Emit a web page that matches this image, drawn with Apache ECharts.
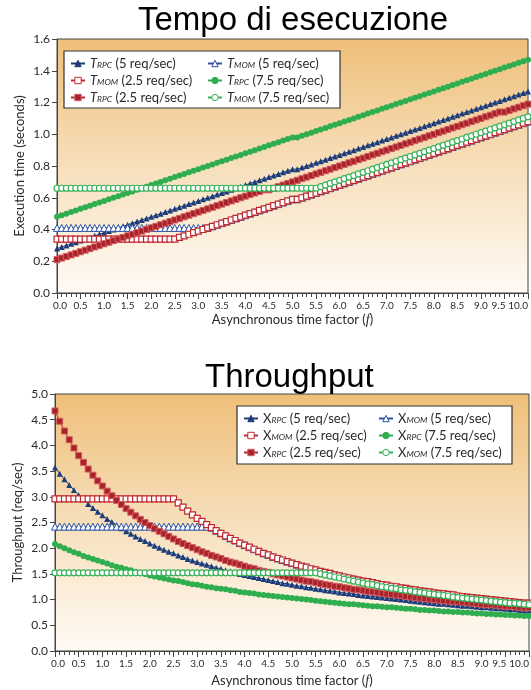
<!DOCTYPE html>
<html>
<head>
<meta charset="utf-8">
<script src="https://cdn.jsdelivr.net/npm/echarts@6/dist/echarts.min.js"></script>
<style>
html, body { margin: 0; padding: 0; background: #fff; }
#chart { width: 531px; height: 690px; }
</style>
</head>
<body>
<div id="chart"></div>
<script>
// fattore di tempo asincrono f (asse x, passo 0.1)
const fs = [
  0,0.1,0.2,0.3,0.4,0.5,0.6,0.7,0.8,0.9,
  1,1.1,1.2,1.3,1.4,1.5,1.6,1.7,1.8,1.9,
  2,2.1,2.2,2.3,2.4,2.5,2.6,2.7,2.8,2.9,
  3,3.1,3.2,3.3,3.4,3.5,3.6,3.7,3.8,3.9,
  4,4.1,4.2,4.3,4.4,4.5,4.6,4.7,4.8,4.9,
  5,5.1,5.2,5.3,5.4,5.5,5.6,5.7,5.8,5.9,
  6,6.1,6.2,6.3,6.4,6.5,6.6,6.7,6.8,6.9,
  7,7.1,7.2,7.3,7.4,7.5,7.6,7.7,7.8,7.9,
  8,8.1,8.2,8.3,8.4,8.5,8.6,8.7,8.8,8.9,
  9,9.1,9.2,9.3,9.4,9.5,9.6,9.7,9.8,9.9,
  10
];

// tempo di esecuzione (secondi)
const tRpc5 = [
  0.28,0.29,0.30,0.31,0.32,0.33,0.34,0.35,0.36,0.37,
  0.38,0.39,0.40,0.41,0.42,0.43,0.44,0.45,0.46,0.47,
  0.48,0.49,0.50,0.51,0.52,0.53,0.54,0.55,0.56,0.57,
  0.58,0.59,0.60,0.61,0.62,0.63,0.64,0.65,0.66,0.67,
  0.68,0.69,0.70,0.71,0.72,0.73,0.74,0.75,0.76,0.77,
  0.78,0.78,0.79,0.80,0.81,0.82,0.83,0.84,0.85,0.86,
  0.87,0.88,0.89,0.90,0.91,0.92,0.93,0.94,0.95,0.96,
  0.97,0.98,0.99,1.00,1.01,1.02,1.03,1.04,1.05,1.06,
  1.07,1.08,1.09,1.10,1.11,1.12,1.13,1.14,1.15,1.16,
  1.17,1.18,1.19,1.20,1.21,1.22,1.23,1.24,1.25,1.26,
  1.27
];
const tMom5 = [
  0.41,0.41,0.41,0.41,0.41,0.41,0.41,0.41,0.41,0.41,
  0.41,0.41,0.41,0.41,0.41,0.41,0.41,0.41,0.41,0.41,
  0.41,0.41,0.41,0.41,0.41,0.41,0.41,0.41,0.41,0.41,
  0.41,0.41,0.41,0.42,0.43,0.44,0.45,0.46,0.47,0.48,
  0.49,0.50,0.51,0.52,0.53,0.54,0.55,0.56,0.57,0.58,
  0.59,0.59,0.60,0.61,0.62,0.63,0.64,0.65,0.66,0.67,
  0.68,0.69,0.70,0.71,0.72,0.73,0.74,0.75,0.76,0.77,
  0.78,0.79,0.80,0.81,0.82,0.83,0.84,0.85,0.86,0.87,
  0.88,0.89,0.90,0.91,0.92,0.93,0.94,0.95,0.96,0.97,
  0.98,0.99,1.00,1.01,1.02,1.03,1.04,1.05,1.06,1.07,
  1.08
];
const tMom25 = [
  0.34,0.34,0.34,0.34,0.34,0.34,0.34,0.34,0.34,0.34,
  0.34,0.34,0.34,0.34,0.34,0.34,0.34,0.34,0.34,0.34,
  0.34,0.34,0.34,0.34,0.34,0.34,0.35,0.36,0.37,0.38,
  0.39,0.40,0.41,0.42,0.43,0.44,0.45,0.46,0.47,0.48,
  0.49,0.50,0.51,0.52,0.53,0.54,0.55,0.56,0.57,0.58,
  0.59,0.59,0.60,0.61,0.62,0.63,0.64,0.65,0.66,0.67,
  0.68,0.69,0.70,0.71,0.72,0.73,0.74,0.75,0.76,0.77,
  0.78,0.79,0.80,0.81,0.82,0.83,0.84,0.85,0.86,0.87,
  0.88,0.89,0.90,0.91,0.92,0.93,0.94,0.95,0.96,0.97,
  0.98,0.99,1.00,1.01,1.02,1.03,1.04,1.05,1.06,1.07,
  1.08
];
const tRpc75 = [
  0.48,0.49,0.50,0.51,0.52,0.53,0.54,0.55,0.56,0.57,
  0.58,0.59,0.60,0.61,0.62,0.63,0.64,0.65,0.66,0.67,
  0.68,0.69,0.70,0.71,0.72,0.73,0.74,0.75,0.76,0.77,
  0.78,0.79,0.80,0.81,0.82,0.83,0.84,0.85,0.86,0.87,
  0.88,0.89,0.90,0.91,0.92,0.93,0.94,0.95,0.96,0.97,
  0.98,0.98,0.99,1.00,1.01,1.02,1.03,1.04,1.05,1.06,
  1.07,1.08,1.09,1.10,1.11,1.12,1.13,1.14,1.15,1.16,
  1.17,1.18,1.19,1.20,1.21,1.22,1.23,1.24,1.25,1.26,
  1.27,1.28,1.29,1.30,1.31,1.32,1.33,1.34,1.35,1.36,
  1.37,1.38,1.39,1.40,1.41,1.42,1.43,1.44,1.45,1.46,
  1.47
];
const tRpc25 = [
  0.21,0.22,0.23,0.24,0.25,0.26,0.27,0.28,0.29,0.30,
  0.31,0.32,0.33,0.34,0.35,0.36,0.37,0.38,0.39,0.40,
  0.41,0.42,0.43,0.44,0.45,0.46,0.47,0.48,0.49,0.50,
  0.51,0.52,0.53,0.54,0.55,0.56,0.57,0.58,0.59,0.60,
  0.61,0.62,0.63,0.64,0.65,0.65,0.66,0.67,0.68,0.69,
  0.70,0.71,0.72,0.73,0.74,0.75,0.76,0.77,0.78,0.79,
  0.80,0.81,0.82,0.83,0.84,0.85,0.86,0.87,0.88,0.89,
  0.90,0.91,0.92,0.93,0.94,0.95,0.96,0.97,0.98,0.99,
  1.00,1.01,1.02,1.03,1.04,1.05,1.06,1.07,1.08,1.09,
  1.10,1.11,1.12,1.13,1.14,1.14,1.15,1.16,1.17,1.18,
  1.19
];
const tMom75 = [
  0.66,0.66,0.66,0.66,0.66,0.66,0.66,0.66,0.66,0.66,
  0.66,0.66,0.66,0.66,0.66,0.66,0.66,0.66,0.66,0.66,
  0.66,0.66,0.66,0.66,0.66,0.66,0.66,0.66,0.66,0.66,
  0.66,0.66,0.66,0.66,0.66,0.66,0.66,0.66,0.66,0.66,
  0.66,0.66,0.66,0.66,0.66,0.66,0.66,0.66,0.66,0.66,
  0.66,0.66,0.66,0.66,0.66,0.66,0.67,0.68,0.69,0.70,
  0.71,0.72,0.73,0.74,0.75,0.76,0.77,0.78,0.79,0.80,
  0.81,0.82,0.83,0.84,0.85,0.86,0.87,0.88,0.89,0.90,
  0.91,0.92,0.93,0.94,0.95,0.96,0.97,0.98,0.99,1.00,
  1.01,1.02,1.03,1.04,1.05,1.06,1.07,1.08,1.09,1.10,
  1.11
];

// throughput (req/sec)
const xRpc5 = [
  3.57,3.45,3.34,3.23,3.13,3.03,2.95,2.86,2.78,2.71,
  2.64,2.57,2.51,2.45,2.39,2.33,2.28,2.23,2.18,2.14,
  2.09,2.05,2.01,1.97,1.93,1.90,1.86,1.83,1.79,1.76,
  1.73,1.70,1.68,1.65,1.62,1.60,1.57,1.55,1.52,1.50,
  1.48,1.46,1.44,1.42,1.40,1.38,1.36,1.34,1.32,1.31,
  1.29,1.27,1.26,1.24,1.23,1.21,1.20,1.18,1.17,1.16,
  1.14,1.13,1.12,1.11,1.09,1.08,1.07,1.06,1.05,1.04,
  1.03,1.02,1.01,1.00,0.99,0.98,0.97,0.96,0.95,0.94,
  0.93,0.92,0.92,0.91,0.90,0.89,0.88,0.88,0.87,0.86,
  0.85,0.85,0.84,0.83,0.83,0.82,0.81,0.81,0.80,0.79,
  0.79
];
const xMom5 = [
  2.42,2.42,2.42,2.42,2.42,2.42,2.42,2.42,2.42,2.42,
  2.42,2.42,2.42,2.42,2.42,2.42,2.42,2.42,2.42,2.42,
  2.42,2.42,2.42,2.42,2.42,2.42,2.42,2.42,2.42,2.42,
  2.42,2.42,2.42,2.40,2.34,2.29,2.24,2.19,2.15,2.10,
  2.06,2.02,1.98,1.94,1.90,1.87,1.83,1.80,1.77,1.74,
  1.71,1.68,1.65,1.63,1.60,1.58,1.55,1.53,1.51,1.48,
  1.46,1.44,1.42,1.40,1.38,1.36,1.35,1.33,1.31,1.29,
  1.28,1.26,1.25,1.23,1.22,1.20,1.19,1.17,1.16,1.15,
  1.13,1.12,1.11,1.10,1.09,1.07,1.06,1.05,1.04,1.03,
  1.02,1.01,1.00,0.99,0.98,0.97,0.96,0.95,0.94,0.93,
  0.93
];
const xMom25 = [
  2.96,2.96,2.96,2.96,2.96,2.96,2.96,2.96,2.96,2.96,
  2.96,2.96,2.96,2.96,2.96,2.96,2.96,2.96,2.96,2.96,
  2.96,2.96,2.96,2.96,2.96,2.96,2.88,2.80,2.72,2.65,
  2.58,2.52,2.46,2.40,2.34,2.29,2.24,2.19,2.15,2.10,
  2.06,2.02,1.98,1.94,1.90,1.87,1.83,1.80,1.77,1.74,
  1.71,1.68,1.65,1.63,1.60,1.58,1.55,1.53,1.51,1.48,
  1.46,1.44,1.42,1.40,1.38,1.36,1.35,1.33,1.31,1.29,
  1.28,1.26,1.25,1.23,1.22,1.20,1.19,1.17,1.16,1.15,
  1.13,1.12,1.11,1.10,1.09,1.07,1.06,1.05,1.04,1.03,
  1.02,1.01,1.00,0.99,0.98,0.97,0.96,0.95,0.94,0.93,
  0.93
];
const xRpc75 = [
  2.08,2.04,2.00,1.96,1.92,1.89,1.85,1.82,1.79,1.76,
  1.73,1.70,1.67,1.64,1.62,1.59,1.57,1.54,1.52,1.50,
  1.47,1.45,1.43,1.41,1.39,1.37,1.36,1.34,1.32,1.30,
  1.29,1.27,1.25,1.24,1.22,1.21,1.20,1.18,1.17,1.15,
  1.14,1.13,1.12,1.10,1.09,1.08,1.07,1.06,1.05,1.04,
  1.03,1.02,1.01,1.00,0.99,0.98,0.97,0.96,0.95,0.94,
  0.93,0.92,0.91,0.91,0.90,0.89,0.88,0.87,0.87,0.86,
  0.85,0.85,0.84,0.83,0.82,0.82,0.81,0.80,0.80,0.79,
  0.79,0.78,0.77,0.77,0.76,0.76,0.75,0.75,0.74,0.73,
  0.73,0.72,0.72,0.71,0.71,0.70,0.70,0.69,0.69,0.68,
  0.68
];
const xRpc25 = [
  4.67,4.47,4.28,4.11,3.95,3.80,3.67,3.54,3.42,3.31,
  3.21,3.11,3.02,2.93,2.85,2.77,2.70,2.63,2.56,2.50,
  2.44,2.38,2.33,2.28,2.23,2.18,2.13,2.09,2.05,2.01,
  1.97,1.93,1.90,1.86,1.83,1.80,1.76,1.73,1.71,1.68,
  1.65,1.62,1.60,1.57,1.55,1.53,1.50,1.48,1.46,1.44,
  1.42,1.40,1.38,1.36,1.35,1.33,1.31,1.29,1.28,1.26,
  1.25,1.23,1.22,1.20,1.19,1.18,1.16,1.15,1.14,1.12,
  1.11,1.10,1.09,1.08,1.06,1.05,1.04,1.03,1.02,1.01,
  1.00,0.99,0.98,0.97,0.96,0.96,0.95,0.94,0.93,0.92,
  0.91,0.90,0.90,0.89,0.88,0.87,0.87,0.86,0.85,0.84,
  0.84
];
const xMom75 = [
  1.52,1.52,1.52,1.52,1.52,1.52,1.52,1.52,1.52,1.52,
  1.52,1.52,1.52,1.52,1.52,1.52,1.52,1.52,1.52,1.52,
  1.52,1.52,1.52,1.52,1.52,1.52,1.52,1.52,1.52,1.52,
  1.52,1.52,1.52,1.52,1.52,1.52,1.52,1.52,1.52,1.52,
  1.52,1.52,1.52,1.52,1.52,1.52,1.52,1.52,1.52,1.52,
  1.52,1.52,1.52,1.52,1.52,1.52,1.50,1.48,1.46,1.44,
  1.42,1.40,1.38,1.36,1.34,1.32,1.30,1.29,1.27,1.25,
  1.24,1.22,1.21,1.19,1.18,1.17,1.15,1.14,1.13,1.11,
  1.10,1.09,1.08,1.07,1.05,1.04,1.03,1.02,1.01,1.00,
  0.99,0.98,0.97,0.96,0.95,0.94,0.93,0.93,0.92,0.91,
  0.90
];

const uiFont = 'Lato, "DejaVu Sans", sans-serif';
const ink = '#2a2a2a';
const axisColor = '#454545';

// stili dei marker per ogni serie
const stRpc5  = { symbol: 'triangle', size: 6, line: '#1c3d7a', fill: '#1c3d7a', border: '#1c3d7a', bw: 0 };
const stMom5  = { symbol: 'triangle', size: 7, line: '#2f55a4', fill: '#ffffff', border: '#2f55a4', bw: 1 };
const stMom25 = { symbol: 'rect',     size: 6, line: '#c0282e', fill: '#ffffff', border: '#c0282e', bw: 1.2 };
const stRpc75 = { symbol: 'circle',   size: 6, line: '#2fae4f', fill: '#2fae4f', border: '#2fae4f', bw: 0 };
const stRpc25 = { symbol: 'rect',     size: 6, line: '#b0272d', fill: '#a6232a', border: '#d65a5e', bw: 1 };
const stMom75 = { symbol: 'circle',   size: 6, line: '#37b158', fill: '#ffffff', border: '#37b158', bw: 1.2 };

function mk(name, ys, st, gi) {
  return {
    name: name,
    type: 'line',
    xAxisIndex: gi,
    yAxisIndex: gi,
    data: fs.map((f, i) => [f, ys[i]]),
    symbol: st.symbol,
    symbolSize: st.size,
    showAllSymbol: true,
    lineStyle: { color: st.line, width: 1 },
    itemStyle: { color: st.fill, borderColor: st.border, borderWidth: st.bw },
    emphasis: { disabled: true }
  };
}

// "T_RPC (5 req/sec)" -> testo con pedice
function legendLabel(name) {
  const m = name.match(/^(\w)_(\w+) (.*)$/);
  const head = m[1] === 'T' ? '{t|T}' : '{x|X}';
  return head + '{s|' + m[2] + '}{n| ' + m[3] + '}';
}

// una colonna della legenda
function legendCol(names, left, top) {
  return {
    data: names,
    left: left,
    top: top,
    orient: 'vertical',
    itemWidth: 14,
    itemHeight: 8,
    itemGap: 4,
    padding: 0,
    selectedMode: false,
    z: 10,
    itemStyle: { borderWidth: 1 },
    formatter: legendLabel,
    textStyle: {
      fontSize: 13,
      color: ink,
      fontFamily: uiFont,
      rich: {
        t: { fontSize: 13, fontStyle: 'italic', fontFamily: uiFont, color: ink },
        x: { fontSize: 13, fontFamily: uiFont, color: ink },
        s: { fontSize: 8.5, fontStyle: 'italic', fontFamily: uiFont, color: ink, verticalAlign: 'bottom', lineHeight: 6 },
        n: { fontSize: 13, fontFamily: uiFont, color: ink }
      }
    }
  };
}

function legendBox(x, y, w, h) {
  return {
    type: 'rect',
    z: 5,
    shape: { x: x, y: y, width: w, height: h },
    style: { fill: '#fff', stroke: '#333', lineWidth: 1.2 }
  };
}

function plotBg() {
  return {
    type: 'linear', x: 0, y: 0, x2: 0, y2: 1,
    colorStops: [
      { offset: 0, color: '#efbf79' },
      { offset: 0.45, color: '#f6dcb5' },
      { offset: 1, color: '#fffbf6' }
    ]
  };
}

const tickLabel = { fontSize: 10, color: ink, margin: 8, fontFamily: uiFont };
const tickRich = {
  a: { fontSize: 10, color: ink, fontFamily: uiFont },
  l: { fontSize: 10, color: ink, fontFamily: uiFont, padding: [0, 0, 0, 6] },
  r: { fontSize: 10, color: ink, fontFamily: uiFont, padding: [0, 12, 0, 0] }
};

// come nell'originale, "0.0" un po' a destra e "9.5" un po' a sinistra
function xTickText(v) {
  const key = v === 0 ? 'l' : (v === 9.5 ? 'r' : 'a');
  return '{' + key + '|' + v.toFixed(1) + '}';
}

function xAx(gi, gap) {
  return {
    type: 'value',
    gridIndex: gi,
    position: 'bottom',
    min: 0,
    max: 10,
    interval: 0.5,
    name: 'Asynchronous time factor ({i|f})',
    nameLocation: 'middle',
    nameGap: gap,
    nameMoveOverlap: false,
    nameTextStyle: {
      fontSize: 13, color: ink, fontFamily: uiFont,
      rich: { i: { fontSize: 14, fontStyle: 'italic', color: ink, fontFamily: '"Liberation Serif", serif' } }
    },
    axisLine: { show: true, lineStyle: { color: axisColor } },
    axisTick: { show: true, length: 6, lineStyle: { color: axisColor } },
    minorTick: { show: true, splitNumber: 5, length: 4, lineStyle: { color: axisColor } },
    axisLabel: Object.assign({ showMaxLabel: false, showMinLabel: true, formatter: xTickText, rich: tickRich }, tickLabel),
    splitLine: { show: false },
    minorSplitLine: { show: false }
  };
}

// asse sovrapposto che mostra solo l'etichetta finale "10.0", allineata a destra
function xAxEnd(gi) {
  return {
    type: 'value',
    gridIndex: gi,
    position: 'bottom',
    offset: 0,
    min: 0,
    max: 10,
    interval: 10,
    axisLine: { show: false },
    axisTick: { show: false },
    axisLabel: Object.assign({ showMinLabel: false, showMaxLabel: true, alignMaxLabel: 'right', formatter: v => v.toFixed(1) }, tickLabel),
    splitLine: { show: false }
  };
}

function yAx(gi, max, step, name, gap) {
  return {
    type: 'value',
    gridIndex: gi,
    min: 0,
    max: max,
    interval: step,
    name: name,
    nameLocation: 'middle',
    nameGap: gap,
    nameMoveOverlap: false,
    nameTextStyle: { fontSize: 13, color: ink, fontFamily: uiFont },
    axisLine: { show: true, lineStyle: { color: axisColor } },
    axisTick: { show: true, length: 5, lineStyle: { color: axisColor } },
    axisLabel: { fontSize: 12, color: ink, margin: 7, fontFamily: uiFont, formatter: v => v.toFixed(1) },
    splitLine: { show: false }
  };
}

const titleStyle = { fontFamily: '"Liberation Sans", Arial, sans-serif', fontSize: 33, fontWeight: 'normal', color: '#000' };

const topNames = ['T_RPC (5 req/sec)', 'T_MOM (5 req/sec)', 'T_MOM (2.5 req/sec)', 'T_RPC (7.5 req/sec)', 'T_RPC (2.5 req/sec)', 'T_MOM (7.5 req/sec)'];
const botNames = ['X_RPC (5 req/sec)', 'X_MOM (5 req/sec)', 'X_MOM (2.5 req/sec)', 'X_RPC (7.5 req/sec)', 'X_RPC (2.5 req/sec)', 'X_MOM (7.5 req/sec)'];

const chart = echarts.init(document.getElementById('chart'));

const option = {
  animation: false,
  backgroundColor: '#fff',
  title: [
    { text: 'Tempo di esecuzione', left: 138, top: 4, padding: 0, textStyle: titleStyle },
    { text: 'Throughput', left: 205, top: 361, padding: 0, textStyle: titleStyle }
  ],
  graphic: [
    legendBox(64, 51, 276, 57),
    legendBox(237, 406, 275, 58)
  ],
  legend: [
    legendCol([topNames[0], topNames[2], topNames[4]], 70, 57),
    legendCol([topNames[1], topNames[3], topNames[5]], 207, 57),
    legendCol([botNames[0], botNames[2], botNames[4]], 243, 412),
    legendCol([botNames[1], botNames[3], botNames[5]], 378, 412)
  ],
  grid: [
    { left: 57, top: 39, width: 471, height: 254, show: true, backgroundColor: plotBg(), borderColor: axisColor, borderWidth: 1, outerBoundsMode: 'none' },
    { left: 55, top: 394, width: 474, height: 257, show: true, backgroundColor: plotBg(), borderColor: axisColor, borderWidth: 1, outerBoundsMode: 'none' }
  ],
  xAxis: [xAx(0, 20), xAx(1, 23), xAxEnd(0), xAxEnd(1)],
  yAxis: [
    yAx(0, 1.6, 0.2, 'Execution time (seconds)', 31),
    yAx(1, 5, 0.5, 'Throughput (req/sec)', 31)
  ],
  series: [
    mk(topNames[0], tRpc5, stRpc5, 0),
    mk(topNames[1], tMom5, stMom5, 0),
    mk(topNames[2], tMom25, stMom25, 0),
    mk(topNames[3], tRpc75, stRpc75, 0),
    mk(topNames[4], tRpc25, stRpc25, 0),
    mk(topNames[5], tMom75, stMom75, 0),
    mk(botNames[0], xRpc5, stRpc5, 1),
    mk(botNames[1], xMom5, stMom5, 1),
    mk(botNames[2], xMom25, stMom25, 1),
    mk(botNames[3], xRpc75, stRpc75, 1),
    mk(botNames[4], xRpc25, stRpc25, 1),
    mk(botNames[5], xMom75, stMom75, 1)
  ]
};

chart.setOption(option);
</script>
</body>
</html>
